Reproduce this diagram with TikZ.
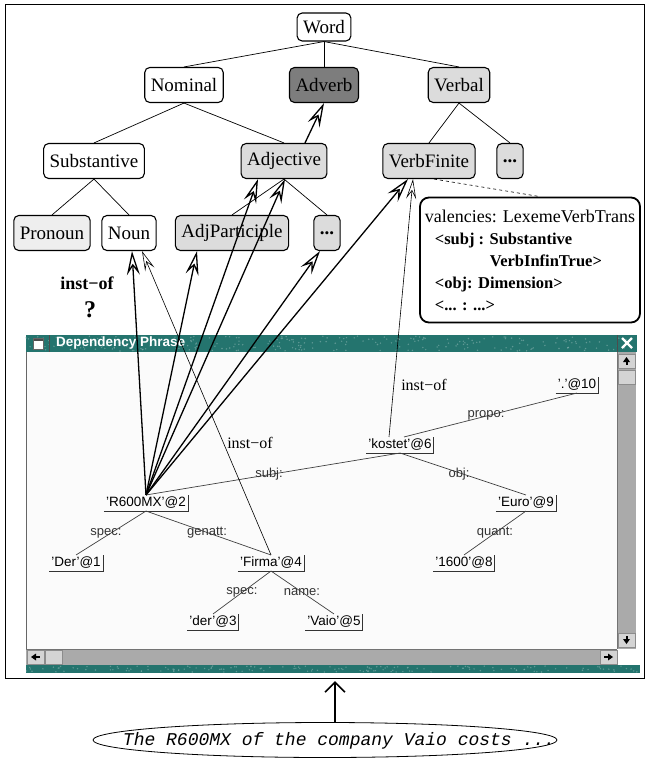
\documentclass[tikz,border=0pt]{standalone}
\usepackage{fontspec}
\setmainfont{Liberation Serif}
\setsansfont{Liberation Sans}
\setmonofont{Liberation Mono}
\usetikzlibrary{arrows.meta,shapes.geometric}
\definecolor{wingreen}{RGB}{36,116,110}
\definecolor{sbgray}{RGB}{170,170,170}
\definecolor{btngray}{RGB}{212,212,212}
\definecolor{lightfill}{RGB}{220,220,220}
\definecolor{palefill}{RGB}{238,238,238}
\definecolor{darkfill}{RGB}{125,125,125}
\definecolor{paper}{RGB}{251,251,251}
\newcommand\valline[1]{{\fontsize{16.5}{22}\selectfont\bfseries #1}}
\tikzset{
  cls/.style={draw, rounded corners=5pt, line width=1.1pt, minimum height=35pt,
    inner xsep=6pt, font=\fontsize{19}{21}\selectfont},
  wnode/.style={inner sep=2pt, font=\sffamily\fontsize{13.5}{15}\selectfont},
  lab/.style={inner sep=0pt, text=black!80, font=\sffamily\fontsize{13}{15}\selectfont},
  instof/.style={inner sep=0pt, font=\fontsize{16}{18}\selectfont},
  isa/.style={line width=1.3pt, -{Stealth[open, length=24pt, width=13pt, inset=9pt]}},
  isathin/.style={line width=0.6pt, -{Stealth[open, length=20pt, width=10pt, inset=8pt]}},
}
\begin{document}
\begin{tikzpicture}[x=1pt, y=-1pt]
\useasboundingbox (0,0) rectangle (649,761);
\draw[line width=1pt] (5,4) rectangle (644,678);

% class hierarchy
\node[cls, minimum height=28pt, fill=white] (word) at (324,27) {Word};
\node[cls, fill=white] (nominal) at (184,85) {Nominal};
\node[cls, fill=darkfill] (adverb) at (324,85) {Adverb};
\node[cls, fill=lightfill] (verbal) at (459,85) {Verbal};
\node[cls, fill=white] (subst) at (94,161) {Substantive};
\node[cls, fill=lightfill] (adjective) at (284,161) {Adjective};
\node[cls, fill=lightfill] (verbfin) at (429,161) {VerbFinite};
\node[cls, fill=lightfill] (vdots) at (510,161) {\textbf{...}};
\node[cls, fill=palefill] (pronoun) at (52,233) {Pronoun};
\node[cls, fill=white] (noun) at (129,233) {Noun};
\node[cls, fill=lightfill] (adjpart) at (232,233) {AdjParticiple};
\node[cls, fill=lightfill] (adots) at (327,233) {\textbf{...}};
\foreach \a/\b in {word/nominal, word/adverb, word/verbal, nominal/subst, nominal/adjective,
    verbal/verbfin, verbal/vdots, subst/pronoun, subst/noun, adjective/adjpart, adjective/adots}
  \draw[line width=0.7pt] (\a.south) -- (\b.north);

\node[draw, rounded corners=9pt, line width=1.8pt, minimum width=220pt, minimum height=125pt,
  align=left, inner xsep=4pt, font=\fontsize{18}{22}\selectfont] (val) at (530,260)
  {valencies: LexemeVerbTrans\\
   \valline{\hspace*{10pt}<subj : Substantive}\\
   \valline{\hspace*{65pt}VerbInfinTrue>}\\
   \valline{\hspace*{10pt}<obj: Dimension>}\\
   \valline{\hspace*{10pt}<... : ...>}};
\draw[dashed, line width=0.6pt] ([xshift=5pt]verbfin.south) -- ([xshift=10pt]val.north);

\node[font=\bfseries\fontsize{18}{20}\selectfont] (qlabel) at (87,283) {inst−of};
\node[font=\bfseries\fontsize{24}{26}\selectfont] (qmark) at (90,310) {?};

% window
\fill[wingreen] (26,335) rectangle (637,352);
\fill[wingreen] (26,665) rectangle (640,673);
\pgfmathsetseed{7}
\foreach \i in {1,...,260} {
  \pgfmathsetmacro\px{26+rnd*608}
  \pgfmathsetmacro\py{336+rnd*15}
  \fill[wingreen!55!white, opacity=0.6] (\px,\py) circle[radius=0.8];
}
\foreach \i in {1,...,160} {
  \pgfmathsetmacro\px{26+rnd*612}
  \pgfmathsetmacro\py{666+rnd*6}
  \fill[wingreen!55!white, opacity=0.6] (\px,\py) circle[radius=0.8];
}
\fill[white] (33,338) rectangle (43,349);
\fill[black!70] (33,338) rectangle (43,341);
\draw[black!60] (33,338) rectangle (43,349);
\draw[black!70] (49,335) -- (49,352);
\draw[black!70] (617,335) -- (617,352);
\node[anchor=west, inner sep=0pt, text=white, font=\sffamily\bfseries\fontsize{13.5}{15}\selectfont]
  (wtitle) at (56,343) {Dependency Phrase};
\draw[white, line width=2.4pt] (622,338) -- (632,348) (622,348) -- (632,338);
\fill[paper] (26,352) rectangle (617,649);
\draw[black!60] (26,352) -- (26,665);
\fill[sbgray] (617,352) rectangle (636,649);
\fill[sbgray] (26,649) rectangle (617,665);
\draw[black!55] (26,649) -- (617,649) (617,352) -- (617,649);
\foreach \x/\y in {618/354, 618/370, 618/633, 27/650, 45/650, 600/650}
  \filldraw[fill=btngray, draw=black!45] (\x,\y) rectangle ++(17,14);
\fill (626.5,357) -- (623,362) -- (630,362) -- cycle;
\fill (625.5,362) rectangle (627.5,365);
\fill (626.5,644) -- (623,639) -- (630,639) -- cycle;
\fill (625.5,636) rectangle (627.5,639);
\fill (31,657) -- (36,653.5) -- (36,660.5) -- cycle;
\fill (36,656) rectangle (40,658);
\fill (613,657) -- (608,653.5) -- (608,660.5) -- cycle;
\fill (604,656) rectangle (608,658);

% dependency tree
\node[wnode] (dot10) at (577,385) {'.'@10};
\node[wnode] (kostet) at (400,445) {'kostet'@6};
\node[wnode] (r600) at (146,503) {'R600MX'@2};
\node[wnode] (euro) at (526,503) {'Euro'@9};
\node[wnode] (der1) at (76,563) {'Der'@1};
\node[wnode] (firma) at (271,563) {'Firma'@4};
\node[wnode] (n1600) at (464,563) {'1600'@8};
\node[wnode] (der3) at (213,622) {'der'@3};
\node[wnode] (vaio) at (334,622) {'Vaio'@5};
\foreach \n in {dot10, kostet, r600, euro, der1, firma, n1600, der3, vaio}
  \draw[black!80, line width=0.7pt] (\n.south west) -- (\n.south east) -- (\n.north east);
\foreach \a/\b in {kostet/r600, kostet/euro, r600/der1, r600/firma, euro/n1600, firma/der3, firma/vaio}
  \draw[black!75, line width=0.7pt] (\a.south) -- (\b.north);
\draw[black!75, line width=0.7pt] ([xshift=4pt]kostet.north) -- (dot10.south);
\node[lab] (lpropo) at (486,415) {propo:};
\node[lab] (lsubj) at (269,474) {subj:};
\node[lab] (lobj) at (459,474) {obj:};
\node[lab] (lspec1) at (106,533) {spec:};
\node[lab] (lgenatt) at (207,533) {genatt:};
\node[lab] (lquant) at (495,533) {quant:};
\node[lab] (lspec2) at (242,592) {spec:};
\node[lab] (lname) at (302,592) {name:};

% instance-of links
\draw[isa] (r600.north) -- ([xshift=3pt]noun.south);
\draw[isa] (r600.north) -- ([xshift=-35pt]adjpart.south);
\draw[isa] (r600.north) -- ([xshift=-26pt]adjective.south);
\draw[isa] (r600.north) -- ([xshift=1pt]adjective.south);
\draw[isa] (r600.north) -- ([xshift=-7pt]adots.south);
\draw[isa] (r600.north) -- ([xshift=-21pt]verbfin.south);
\draw[isa] ([xshift=21pt]adjective.north) -- (adverb.south);
\draw[isathin] (firma.north) -- ([xshift=13pt]noun.south);
\draw[isathin] ([xshift=-11pt]kostet.north) -- ([xshift=-16pt]verbfin.south);
\node[instof] (inst1) at (424,385) {inst−of};
\node[instof] (inst2) at (250,443) {inst−of};

% input sentence
\node[draw, ellipse, line width=0.8pt, minimum width=464pt, minimum height=35pt] (bubble) at (325,740) {};
\node[font=\ttfamily\itshape\fontsize{18}{20}\selectfont] (sentence) at (339,741)
  {The R600MX of the company Vaio costs ...};
\coordinate (framebot) at (335,681);
\draw[line width=1.6pt, -{Straight Barb[length=10pt, width=20pt]}] (bubble.north -| framebot) -- (framebot);
\end{tikzpicture}
\end{document}
